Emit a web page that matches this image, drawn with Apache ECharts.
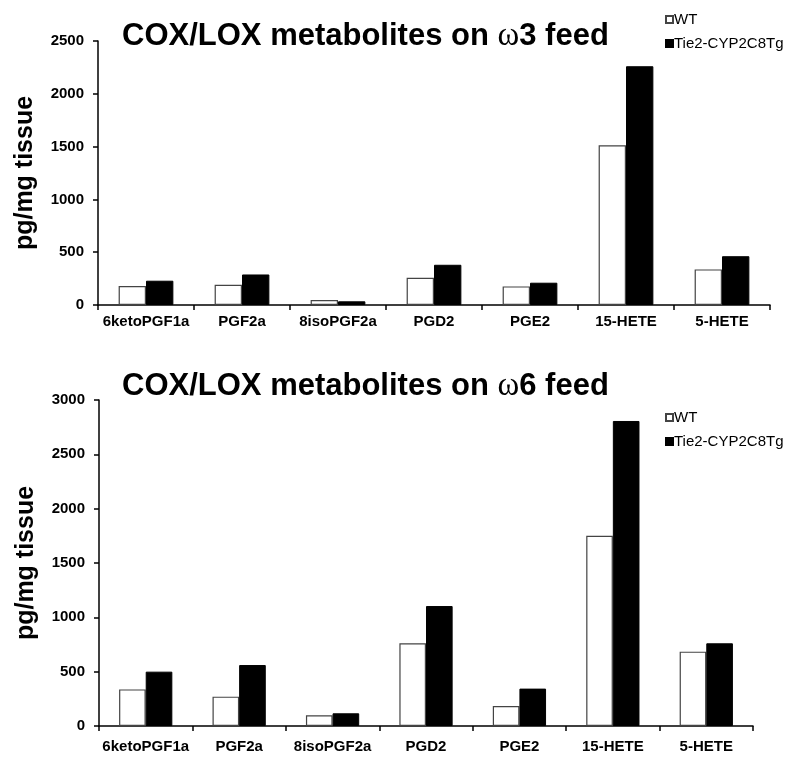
<!DOCTYPE html>
<html>
<head>
<meta charset="utf-8">
<script src="https://cdn.jsdelivr.net/npm/echarts@6/dist/echarts.min.js"></script>
<style>
  html, body { margin: 0; padding: 0; background: #fff; }
  #main { width: 789px; height: 759px; }
</style>
</head>
<body>
<div id="main"></div>
<script>
  // data
  var categories = ['6ketoPGF1a', 'PGF2a', '8isoPGF2a', 'PGD2', 'PGE2', '15-HETE', '5-HETE'];
  var w3WT = [179, 192, 47, 258, 176, 1513, 337];
  var w3Tg = [230, 289, 35, 381, 211, 2261, 462];
  var w6WT = [337, 270, 98, 761, 184, 1751, 684];
  var w6Tg = [500, 561, 117, 1104, 344, 2807, 761];
  var seriesNames = ['WT', 'Tie2-CYP2C8Tg'];

  var font = 'Liberation Sans, Arial, sans-serif';
  var myChart = echarts.init(document.getElementById('main'));

  function titleOf(n, top) {
    return {
      text: 'COX/LOX metabolites on {w|ω}' + n + ' feed',
      left: 117,
      top: top,
      textStyle: {
        fontFamily: font, fontWeight: 'bold', fontSize: 31, color: '#000',
        rich: { w: { fontFamily: 'Liberation Serif, serif', fontSize: 33, fontWeight: 'normal', color: '#000' } }
      }
    };
  }

  function legendAt(top) {
    return {
      orient: 'vertical',
      left: 660,
      top: top,
      itemWidth: 7,
      itemHeight: 7,
      itemGap: 9,
      icon: 'rect',
      data: seriesNames,
      textStyle: { fontFamily: font, fontSize: 15, color: '#000', padding: [0, 0, 0, -4] }
    };
  }

  function xAxisOf(idx, margin) {
    return {
      type: 'category',
      gridIndex: idx,
      data: categories,
      axisLine: { lineStyle: { color: '#000', width: 1.5 } },
      axisTick: { show: true, length: 5, lineStyle: { color: '#000', width: 1.5 } },
      axisLabel: { fontFamily: font, fontWeight: 'bold', fontSize: 15, color: '#000', margin: margin, interval: 0 },
      splitLine: { show: false }
    };
  }

  function yAxisOf(idx, max) {
    return {
      type: 'value',
      gridIndex: idx,
      min: 0,
      max: max,
      interval: 500,
      name: 'pg/mg tissue',
      nameLocation: 'middle',
      nameGap: 60,
      nameTextStyle: { fontFamily: font, fontWeight: 'bold', fontSize: 25, color: '#000' },
      axisLine: { show: true, lineStyle: { color: '#000', width: 1.5 } },
      axisTick: { show: true, length: 5, lineStyle: { color: '#000', width: 1.5 } },
      axisLabel: {
        fontFamily: font, fontWeight: 'bold', fontSize: 15, color: '#000', margin: 14,
        formatter: function (v) { return String(v); }
      },
      splitLine: { show: false }
    };
  }

  function barOf(name, data, idx, isWT) {
    return {
      name: name,
      type: 'bar',
      xAxisIndex: idx,
      yAxisIndex: idx,
      data: data,
      barGap: '0%',
      barCategoryGap: '43%',
      itemStyle: isWT
        ? { color: '#fff', borderColor: '#444', borderWidth: 1.2 }
        : { color: '#000', borderColor: '#000', borderWidth: 1 },
      emphasis: { disabled: true }
    };
  }

  var option = {
    animation: false,
    backgroundColor: '#fff',
    title: [titleOf('3', 15), titleOf('6', 365)],
    legend: [legendAt(7), legendAt(405)],
    grid: [
      { left: 98, right: 19, top: 41, height: 264 },
      { left: 99, right: 36, top: 400, height: 326 }
    ],
    xAxis: [xAxisOf(0, 9), xAxisOf(1, 13)],
    yAxis: [yAxisOf(0, 2500), yAxisOf(1, 3000)],
    series: [
      barOf(seriesNames[0], w3WT, 0, true),
      barOf(seriesNames[1], w3Tg, 0, false),
      barOf(seriesNames[0], w6WT, 1, true),
      barOf(seriesNames[1], w6Tg, 1, false)
    ]
  };

  myChart.setOption(option);
</script>
</body>
</html>
